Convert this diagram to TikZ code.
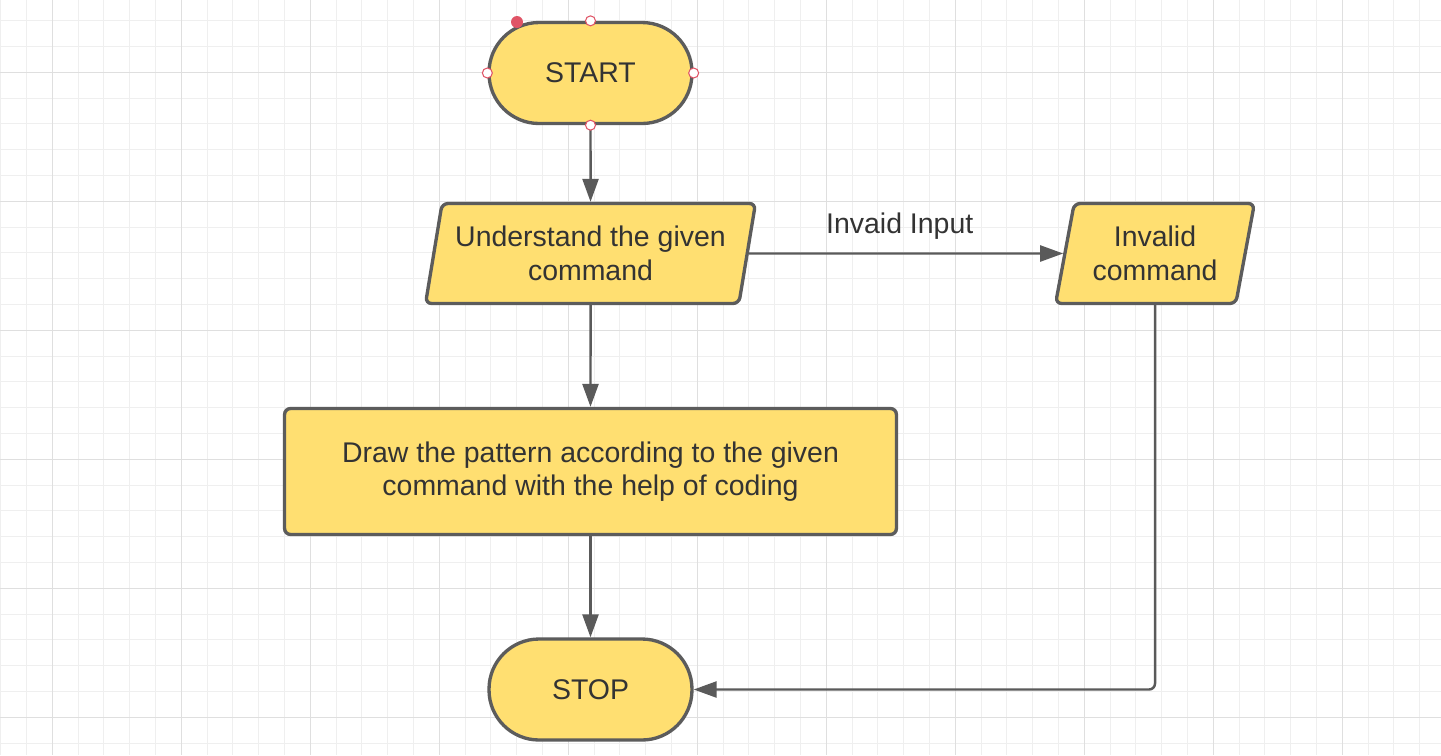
\documentclass[tikz,border=0pt]{standalone}
\usepackage{fontspec}
\setmainfont{Liberation Sans}
\usetikzlibrary{arrows.meta,shapes.geometric,positioning}

\definecolor{boxfill}{HTML}{FFDF71}
\definecolor{linegray}{HTML}{5C5C5C}
\definecolor{arrowgray}{HTML}{5A5A5A}
\definecolor{textgray}{HTML}{333333}
\definecolor{gridminor}{HTML}{EFEFEF}
\definecolor{gridmajor}{HTML}{DFDFDF}
\definecolor{handlered}{HTML}{E05466}

\begin{document}
\begin{tikzpicture}[x=0.02cm,y=-0.02cm,
		every node/.style={font=\fontsize{16.2}{19}\selectfont, text=textgray, align=center},
		terminal/.style={draw=linegray, fill=boxfill, line width=1.9pt, minimum width=4.06cm, minimum height=2.02cm, rounded corners=1cm},
		io/.style={trapezium, trapezium left angle=76.6, trapezium right angle=103.4, trapezium stretches=true, draw=linegray, fill=boxfill, line width=1.9pt, minimum height=2cm, rounded corners=0.12cm},
		process/.style={draw=linegray, fill=boxfill, line width=1.9pt, minimum width=12.24cm, minimum height=2.52cm, rounded corners=0.12cm},
		flow/.style={-{Triangle[length=0.46cm,width=0.32cm]}, arrowgray, line width=1.4pt},
		handle/.style={circle, draw=handlered, fill=white, line width=0.6pt, inner sep=0pt, minimum size=0.2cm},
		handledot/.style={circle, fill=handlered, inner sep=0pt, minimum size=0.24cm}]

			% background grid
			\useasboundingbox (0,0) rectangle (1441,755);
			\fill[white] (0,0) rectangle (1441,755);
			\foreach \i in {0,...,55}
				\draw[gridminor, line width=0.6pt] ({0.7+25.8*\i},0) -- ({0.7+25.8*\i},755);
			\foreach \j in {0,...,28}
				\draw[gridminor, line width=0.6pt] (0,{20.7+25.8*\j}) -- (1441,{20.7+25.8*\j});
			\foreach \i in {0,...,10}
				\draw[gridmajor, line width=0.7pt] ({52.3+129*\i},0) -- ({52.3+129*\i},755);
			\foreach \j in {0,...,5}
				\draw[gridmajor, line width=0.7pt] (0,{72.3+129*\j}) -- (1441,{72.3+129*\j});

			\node[terminal] (start) at (590.5,73) {START};
			\node[io, minimum width=6.6cm] (understand) at (590.5,253.5) {Understand the given\\command};
			\node[io, minimum width=4cm] (invalid) at (1155,253.5) {Invalid\\command};
			\node[process] (pattern) at (590.5,471.5) {Draw the pattern according to the given\\command with the help of coding};
			\node[terminal] (stop) at (590.5,689.5) {STOP};

			\path [flow] (start) edge (understand);
			\path [flow] (understand.east) edge node[above, pos=0.48, yshift=4pt] {Invaid Input} (invalid.west);
			\path [flow] (understand) edge (pattern);
			\path [flow] (pattern) edge (stop);
			\draw [flow, rounded corners=0.12cm] (invalid.south) |- (stop.east);

			% selection handles
			\node[handle] (hn) at (start.north) {};
			\node[handle] (hs) at (start.south) {};
			\node[handle] (hw) at (start.west) {};
			\node[handle] (he) at (start.east) {};
			\node[handledot] (hsel) at (517,22) {};
		\end{tikzpicture}
\end{document}
